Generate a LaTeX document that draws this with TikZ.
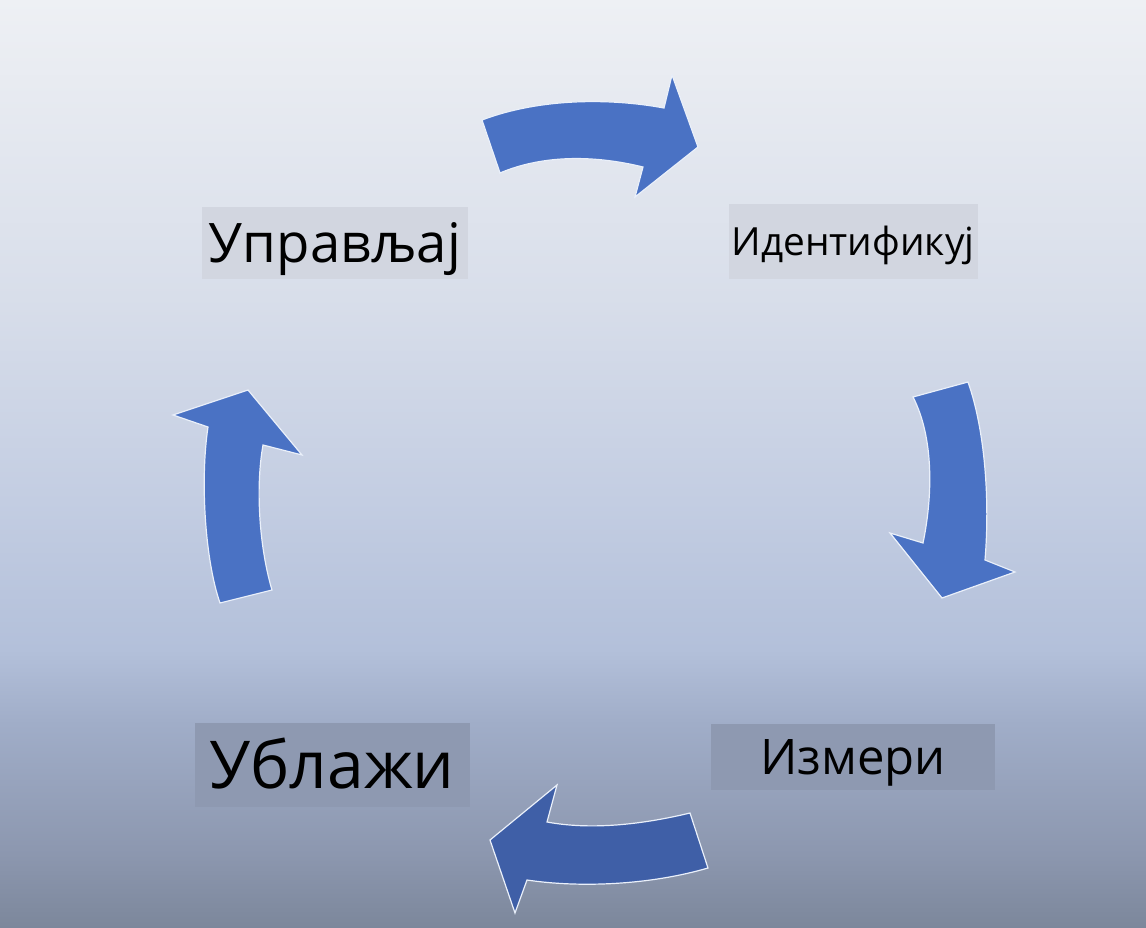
\documentclass[tikz,border=0pt]{standalone}
\usepackage{fontspec}
\setmainfont{Open Sans}
\definecolor{arrowblue}{HTML}{4A72C4}
\definecolor{arrowdark}{HTML}{3F5FA7}
\definecolor{rim}{HTML}{EAF0FA}
\definecolor{boxlight}{HTML}{D2D6E0}
\definecolor{boxdark}{HTML}{8E99B1}
\definecolor{bgA}{HTML}{EEF0F4}
\definecolor{bgB}{HTML}{D8DEEA}
\definecolor{bgC}{HTML}{C3CDE2}
\definecolor{bgD}{HTML}{B3C0DA}
\definecolor{bgE}{HTML}{A0ADC8}
\definecolor{bgF}{HTML}{8C97AF}
\definecolor{bgG}{HTML}{7C879B}
% path is mapped onto 25bp..75bp of the shading
\pgfdeclareverticalshading{bgshade}{100bp}{color(0bp)=(bgG); color(25bp)=(bgG); color(29bp)=(bgF); color(36bp)=(bgE); color(40bp)=(bgD); color(48bp)=(bgC); color(59bp)=(bgB); color(75bp)=(bgA); color(100bp)=(bgA)}
\begin{document}
\begin{tikzpicture}[x=1pt,y=-1pt,
    blockarrow/.style={fill=arrowblue,draw=rim,line width=1.2pt,line join=miter},
    labelbox/.style={inner sep=0pt,text depth=0pt,anchor=center}]
        \useasboundingbox (0,0) rectangle (1146,928);
        \shade[shading=bgshade] (0,0) rectangle (1146,928);

        % labels
        \node[labelbox,fill=boxlight,minimum width=266pt,minimum height=71pt,text height=39pt,font=\fontsize{54.5}{58}\selectfont] (manage) at (335,243) {Управљај};
        \node[labelbox,fill=boxlight,minimum width=249pt,minimum height=74pt,text height=27.7pt,font=\fontsize{38.8}{42}\selectfont] (identify) at (853,241.5) {Идентификуј};
        \node[labelbox,fill=boxdark,minimum width=284pt,minimum height=66pt,text height=35pt,font=\fontsize{49}{53}\selectfont] (measure) at (853,757) {Измери};
        \node[labelbox,fill=boxdark,minimum width=275pt,minimum height=84pt,text height=47pt,font=\fontsize{66}{70}\selectfont] (mitigate) at (332,765) {Ублажи};

        % arrows
        \draw[blockarrow] (482,120) .. controls (540,98) and (610,98) .. (664,108) -- (672,75) -- (698,147)
            -- (635,197) -- (643,167) .. controls (590,154) and (540,156) .. (500,173) -- cycle;
        \draw[blockarrow] (913,397) -- (968,382) .. controls (985,430) and (990,500) .. (985,560) -- (1015,572)
            -- (942,598) -- (890,533) -- (923,543) .. controls (932,500) and (935,440) .. (913,397) -- cycle;
        \draw[blockarrow,fill=arrowdark] (490,840) -- (557,785) -- (547,822) .. controls (590,830) and (640,825) .. (690,813)
            -- (708,868) .. controls (650,885) and (580,888) .. (527,880) -- (515,913) -- cycle;
        \draw[blockarrow] (248,390) -- (302,455) -- (263,445) .. controls (255,490) and (260,550) .. (272,590)
            -- (220,603) .. controls (205,560) and (200,480) .. (208,427) -- (173,415) -- cycle;
    \end{tikzpicture}
\end{document}
